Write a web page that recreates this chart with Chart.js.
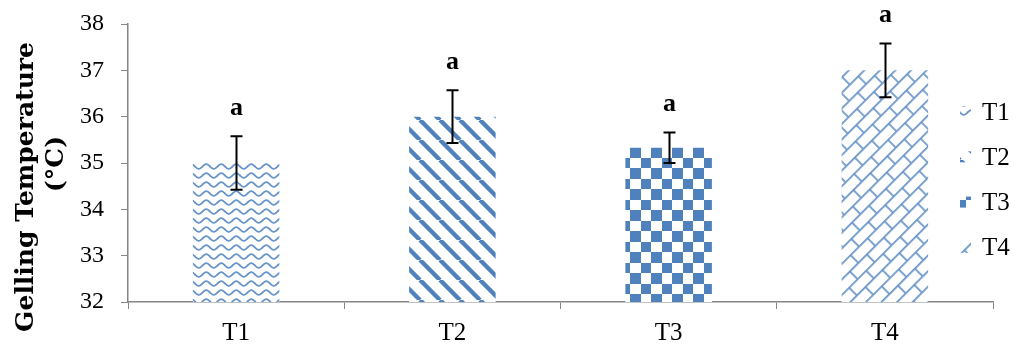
<!DOCTYPE html>
<html>
<head>
<meta charset="utf-8">
<script src="https://cdn.jsdelivr.net/npm/chart.js@4"></script>
<style>
  html, body { margin: 0; padding: 0; background: #ffffff; }
  #wrap { width: 1014px; height: 345px; }
</style>
</head>
<body>
<div id="wrap"><canvas id="gelChart" width="1014" height="345"></canvas></div>
<script>
const categories = ["T1", "T2", "T3", "T4"];
const gelTemp = [35.0, 36.0, 35.33, 37.0];
const gelErr = [0.58, 0.57, 0.33, 0.58];
const letters = ["a", "a", "a", "a"];
const yTicks = [32, 33, 34, 35, 36, 37, 38];
const yTitle = ["Gelling Temperature", "(°C)"];

const blue = "#4f81bd";
const serif = "'Liberation Serif', serif";
const titleFont = "'DejaVu Serif', serif";

// build a pattern from a small tile canvas
function makeTile(w, h, draw) {
    const c = document.createElement("canvas");
    c.width = w;
    c.height = h;
    const g = c.getContext("2d");
    g.fillStyle = "#ffffff";
    g.fillRect(0, 0, w, h);
    draw(g, w, h);
    return c;
}

function wavePattern(ctx) {
    const tile = makeTile(15, 9, (g, w, h) => {
        g.strokeStyle = "#6a95c9";
        g.lineWidth = 1.8;
        g.beginPath();
        for (let x = -1; x <= w + 1; x += 0.5) {
            const y = h / 2 + 2.3 * Math.sin(2 * Math.PI * x / w);
            if (x === -1) g.moveTo(x, y); else g.lineTo(x, y);
        }
        g.stroke();
    });
    return ctx.createPattern(tile, "repeat");
}

function stripePattern(ctx) {
    const tile = makeTile(20, 20, (g, w) => {
        g.strokeStyle = blue;
        g.lineWidth = 4.4;
        for (const x0 of [-w, 0, w]) {
            g.beginPath();
            g.moveTo(x0, 0);
            g.lineTo(x0 + w, w);
            g.stroke();
        }
    });
    return ctx.createPattern(tile, "repeat");
}

function checkPattern(ctx) {
    const tile = makeTile(21, 21, (g) => {
        g.fillStyle = blue;
        g.fillRect(0, 0, 11, 11);
        g.fillRect(11, 11, 10, 10);
    });
    return ctx.createPattern(tile, "repeat");
}

function brickPattern(ctx) {
    const L = 24, H = 11;
    const tile = makeTile(L * 2, H * 2, (g) => {
        g.strokeStyle = "#6a95c9";
        g.lineWidth = 1.7;
        g.beginPath();
        g.moveTo(0, 0.8); g.lineTo(2 * L, 0.8);
        g.moveTo(0, H + 0.8); g.lineTo(2 * L, H + 0.8);
        g.moveTo(1, 0); g.lineTo(1, H);
        g.moveTo(L + 1, 0); g.lineTo(L + 1, H);
        g.moveTo(L / 2 + 1, H); g.lineTo(L / 2 + 1, 2 * H);
        g.moveTo(L * 1.5 + 1, H); g.lineTo(L * 1.5 + 1, 2 * H);
        g.stroke();
    });
    const p = ctx.createPattern(tile, "repeat");
    p.setTransform(new DOMMatrix().rotate(-45));
    return p;
}

const canvas = document.getElementById("gelChart");
const ctx = canvas.getContext("2d");
const fills = [wavePattern(ctx), stripePattern(ctx), checkPattern(ctx), brickPattern(ctx)];

// error bars, letters, axis title and the legend
const extrasPlugin = {
    id: "extras",
    afterDatasetsDraw(chart) {
        const c = chart.ctx;
        const y = chart.scales.y;
        const bars = chart.getDatasetMeta(0).data;
        c.save();
        c.strokeStyle = "#000000";
        c.lineWidth = 2;
        bars.forEach((bar, i) => {
            const top = y.getPixelForValue(gelTemp[i] + gelErr[i]);
            const bot = y.getPixelForValue(gelTemp[i] - gelErr[i]);
            const x = Math.round(bar.x) + 0.5;
            c.beginPath();
            c.moveTo(x, top); c.lineTo(x, bot);
            c.moveTo(x - 6, top); c.lineTo(x + 6, top);
            c.moveTo(x - 6, bot); c.lineTo(x + 6, bot);
            c.stroke();

            c.fillStyle = "#000000";
            c.font = "bold 26px " + serif;
            c.textAlign = "center";
            c.textBaseline = "middle";
            c.fillText(letters[i], x, top - 28);
        });

        // y axis title, two lines
        c.fillStyle = "#000000";
        c.font = "bold 25px " + titleFont;
        c.textAlign = "center";
        c.textBaseline = "alphabetic";
        [[33, 187], [63, 164]].forEach(([tx, ty], i) => {
            c.save();
            c.translate(tx, ty);
            c.rotate(-Math.PI / 2);
            c.fillText(yTitle[i], 0, 0);
            c.restore();
        });

        // legend
        const lx = 960, ly0 = 112, gap = 45.3;
        categories.forEach((name, i) => {
            const cy = ly0 + i * gap;
            c.fillStyle = fills[i];
            c.fillRect(lx, cy - 6, 11, 11);
            c.fillStyle = "#000000";
            c.font = "25px " + serif;
            c.textAlign = "left";
            c.textBaseline = "middle";
            c.fillText(name, lx + 22, cy + 1);
        });
        c.restore();
    }
};

new Chart(ctx, {
    type: "bar",
    data: {
        labels: categories,
        datasets: [{
            label: "Gelling Temperature",
            data: gelTemp,
            backgroundColor: fills,
            borderWidth: 0,
            barPercentage: 0.8,
            categoryPercentage: 0.5
        }]
    },
    options: {
        responsive: false,
        animation: false,
        devicePixelRatio: 1,
        layout: { padding: { top: 24, right: 21, left: 0, bottom: 0 } },
        plugins: {
            legend: { display: false },
            tooltip: { enabled: false }
        },
        scales: {
            x: {
                grid: { display: true, drawOnChartArea: false, offset: true, color: "#868686", tickLength: 7, tickColor: "#868686" },
                border: { color: "#868686", width: 1.5 },
                ticks: { color: "#000000", font: { family: serif, size: 25 }, padding: 9 },
                afterFit(scale) { scale.height = 43; }
            },
            y: {
                min: 32,
                max: 38,
                afterBuildTicks(scale) { scale.ticks = yTicks.map(v => ({ value: v })); },
                grid: { display: true, drawOnChartArea: false, color: "#868686", tickLength: 7, tickColor: "#868686" },
                border: { color: "#868686", width: 1.5 },
                ticks: { color: "#000000", font: { family: serif, size: 24 }, padding: 17 },
                afterFit(scale) {
                    scale.width = 128;
                    scale.paddingTop = 0;
                    scale.paddingBottom = 0;
                }
            }
        }
    },
    plugins: [extrasPlugin]
});
</script>
</body>
</html>
